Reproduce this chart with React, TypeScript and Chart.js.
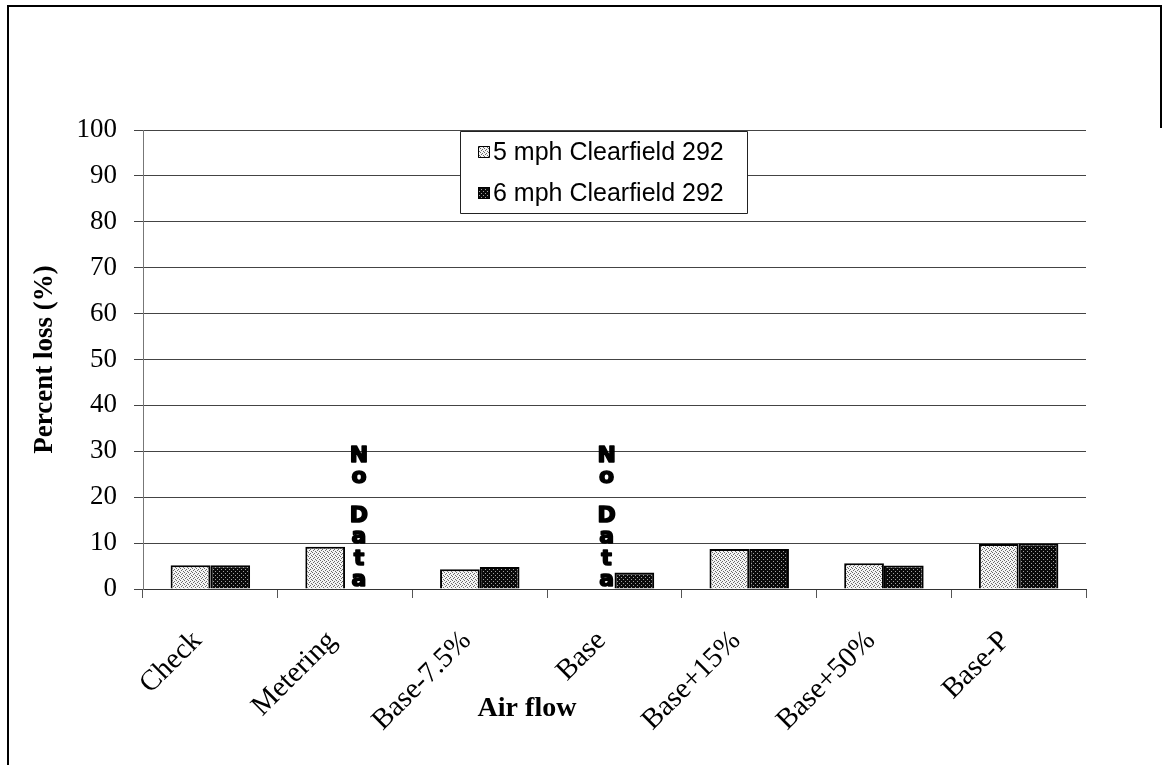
import React, { useEffect, useRef } from 'react';
import { Chart, registerables } from 'chart.js';

Chart.register(...registerables);

const categories = ['Check', 'Metering', 'Base-7.5%', 'Base', 'Base+15%', 'Base+50%', 'Base-P'];
const series5mph: (number | null)[] = [5.2, 9.2, 4.3, null, 8.7, 5.6, 9.8];
const series6mph: (number | null)[] = [5.2, null, 4.8, 3.6, 8.7, 5.1, 9.9];
const seriesLabels = ['5 mph Clearfield 292', '6 mph Clearfield 292'];
const yMin = 0;
const yMax = 100;
const yStep = 10;
const yTitle = 'Percent loss (%)';
const xTitle = 'Air flow';
const noDataLetters = ['N', 'o', '', 'D', 'a', 't', 'a'];

function makePattern(bg: string, dot: string, dots: number[][]) {
  const c = document.createElement('canvas');
  c.width = 4;
  c.height = 4;
  const g = c.getContext('2d')!;
  g.fillStyle = bg;
  g.fillRect(0, 0, 4, 4);
  g.fillStyle = dot;
  dots.forEach(([x, y]) => g.fillRect(x, y, 1, 1));
  return g.createPattern(c, 'repeat')!;
}

export default function App() {
  const ref = useRef<HTMLCanvasElement>(null);

  useEffect(() => {
    const canvas = ref.current!;
    const light = makePattern('#f4f4f4', '#6a6a6a', [[0, 0], [2, 1], [1, 2], [3, 3]]);
    const dark = makePattern('#0a0a0a', '#a0a0a0', [[1, 1], [3, 3]]);
    const fills = [light, dark];
    const catPct = 0.59;

    const framePlugin = {
      id: 'frame',
      beforeDraw(chart: any) {
        const ctx = chart.ctx;
        ctx.save();
        ctx.fillStyle = '#ffffff';
        ctx.fillRect(0, 0, chart.width, chart.height);
        ctx.strokeStyle = '#000';
        ctx.lineWidth = 2;
        ctx.beginPath();
        ctx.moveTo(8, 765);
        ctx.lineTo(8, 6);
        ctx.lineTo(1161, 6);
        ctx.lineTo(1161, 128);
        ctx.stroke();
        ctx.restore();
      },
    };

    const overlayPlugin = {
      id: 'overlay',
      afterDraw(chart: any) {
        const ctx = chart.ctx;
        const xs = chart.scales.x;
        const ys = chart.scales.y;
        const area = chart.chartArea;
        ctx.save();

        // "No Data" vertical labels
        const catW = (area.right - area.left) / categories.length;
        const barW = (catW * catPct) / 2;
        [series5mph, series6mph].forEach((arr, di) => {
          arr.forEach((v, i) => {
            if (v !== null) return;
            const center = xs.getPixelForValue(i);
            let bx = center + (di === 0 ? -barW / 2 : barW / 2);
            bx += di === 0 ? 12 : -6;
            ctx.fillStyle = '#000';
            ctx.strokeStyle = '#000';
            ctx.lineWidth = 1.6;
            ctx.lineJoin = 'round';
            ctx.font = 'bold 22px "DejaVu Sans"';
            ctx.textAlign = 'center';
            ctx.textBaseline = 'alphabetic';
            let y = ys.getPixelForValue(0) - 3;
            for (let k = noDataLetters.length - 1; k >= 0; k--) {
              const ch = noDataLetters[k];
              if (ch) {
                ctx.fillText(ch, bx, y);
                ctx.strokeText(ch, bx, y);
                y -= 21.5;
              } else {
                y -= 17;
              }
            }
          });
        });

        // Axis titles
        ctx.fillStyle = '#000';
        ctx.font = 'bold 27px "Liberation Serif"';
        ctx.textAlign = 'center';
        ctx.textBaseline = 'middle';
        ctx.save();
        ctx.translate(45, (area.top + area.bottom) / 2);
        ctx.rotate(-Math.PI / 2);
        ctx.fillText(yTitle, 0, 0);
        ctx.restore();
        ctx.font = 'bold 28px "Liberation Serif"';
        ctx.textBaseline = 'alphabetic';
        ctx.fillText(xTitle, 527, 716);

        // Legend
        const lx = 460, ly = 131, lw = 287, lh = 82;
        ctx.fillStyle = '#fff';
        ctx.fillRect(lx, ly, lw, lh);
        ctx.strokeStyle = '#222';
        ctx.lineWidth = 1;
        ctx.strokeRect(lx + 0.5, ly + 0.5, lw, lh);
        const rows = [152, 193];
        seriesLabels.forEach((lab, i) => {
          ctx.fillStyle = fills[i];
          ctx.fillRect(478, rows[i] - 6, 12, 12);
          ctx.strokeStyle = '#000';
          ctx.lineWidth = 1;
          ctx.strokeRect(478.5, rows[i] - 5.5, 11, 11);
          ctx.fillStyle = '#000';
          ctx.font = '25px "Liberation Sans"';
          ctx.textAlign = 'left';
          ctx.textBaseline = 'middle';
          ctx.fillText(lab, 493, rows[i] + 1);
        });
        ctx.restore();
      },
    };

    const chart = new Chart(canvas, {
      type: 'bar',
      data: {
        labels: categories,
        datasets: [
          {
            label: seriesLabels[0],
            data: series5mph,
            backgroundColor: light,
            borderColor: '#000',
            borderWidth: 2,
            categoryPercentage: catPct,
            barPercentage: 1.0,
          },
          {
            label: seriesLabels[1],
            data: series6mph,
            backgroundColor: dark,
            borderColor: '#000',
            borderWidth: 2,
            categoryPercentage: catPct,
            barPercentage: 1.0,
          },
        ],
      },
      options: {
        responsive: false,
        maintainAspectRatio: false,
        animation: false,
        layout: { padding: { top: 130, right: 77, left: 0, bottom: 0 } },
        plugins: {
          legend: { display: false },
          tooltip: { enabled: false },
          title: { display: false },
        },
        scales: {
          x: {
            grid: {
              display: true,
              drawOnChartArea: false,
              drawTicks: true,
              tickLength: 9,
              color: '#555',
              offset: true,
            },
            border: { display: true, color: '#333', width: 1 },
            ticks: {
              minRotation: 45,
              maxRotation: 45,
              padding: 26,
              labelOffset: -13,
              color: '#000',
              font: { family: '"Liberation Serif"', size: 29 },
              autoSkip: false,
            },
            afterFit(scale: any) {
              scale.height = 765 - 589;
            },
          },
          y: {
            min: yMin,
            max: yMax,
            grid: {
              color: '#444',
              lineWidth: 1,
              tickLength: 9,
              drawTicks: true,
            },
            border: { display: true, color: '#777', width: 1 },
            ticks: {
              stepSize: yStep,
              padding: 17,
              color: '#000',
              font: { family: '"Liberation Serif"', size: 27 },
            },
            afterFit(scale: any) {
              scale.width = 143;
            },
          },
        },
      },
      plugins: [framePlugin, overlayPlugin],
    } as any);

    return () => chart.destroy();
  }, []);

  return (
    <div style={{ position: 'fixed', left: 0, top: 0, width: 1163, height: 765, background: '#fff' }}>
      <canvas ref={ref} width={1163} height={765} style={{ display: 'block', width: 1163, height: 765 }} />
    </div>
  );
}
